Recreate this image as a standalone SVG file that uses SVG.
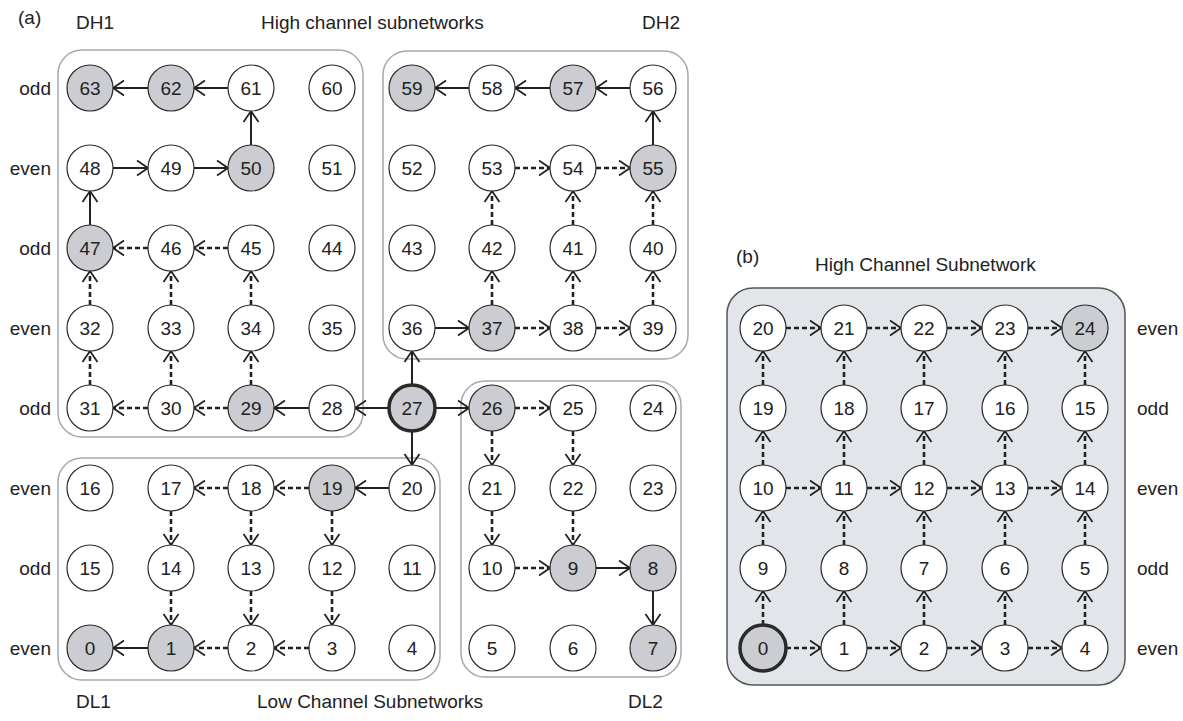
<svg xmlns="http://www.w3.org/2000/svg" width="1183" height="721" viewBox="0 0 1183 721">
  <style>
    text { font-family: "Liberation Sans", Arial, sans-serif; font-size: 19px; fill: #222; }
    .lbl { text-anchor: middle; }
    .rowl { text-anchor: end; }
    .node circle { fill: #fff; stroke: #2a2a2a; stroke-width: 1.2; }
    .node.hi circle { fill: #cbcdd3; }
    .node.src circle { stroke-width: 3.5; }
    .sub { fill: none; stroke: #a3a9b1; stroke-width: 1.5; }
    .subb { fill: #e2e5ea; stroke: #555; stroke-width: 1.5; }
    .s { stroke: #222; stroke-width: 2; fill: none; marker-end: url(#ah); }
    .d { stroke: #222; stroke-width: 2.6; stroke-dasharray: 5 3; fill: none; marker-end: url(#ah); }
  </style>
  <defs>
    <marker id="ah" viewBox="-13 -10 15 20" markerWidth="15" markerHeight="20" refX="0" refY="0" orient="auto" markerUnits="userSpaceOnUse">
      <path d="M-11,-7.5 L0,0 L-11,7.5" fill="none" stroke="#222" stroke-width="1.8" stroke-dasharray="none"/>
    </marker>
  </defs>

  <!-- captions -->
  <g id="captions">
    <text x="18" y="24">(a)</text>
    <text x="76" y="29">DH1</text>
    <text x="261" y="29">High channel subnetworks</text>
    <text x="642" y="29">DH2</text>
    <text x="76" y="708">DL1</text>
    <text x="257" y="708">Low Channel Subnetworks</text>
    <text x="628" y="708">DL2</text>
    <text x="736" y="263">(b)</text>
    <text x="815" y="271">High Channel Subnetwork</text>
  </g>

  <!-- row parity labels -->
  <g id="row-labels">
    <text class="rowl" x="51" y="95">odd</text>
    <text class="rowl" x="51" y="175">even</text>
    <text class="rowl" x="51" y="255">odd</text>
    <text class="rowl" x="51" y="335">even</text>
    <text class="rowl" x="51" y="415">odd</text>
    <text class="rowl" x="51" y="495">even</text>
    <text class="rowl" x="51" y="575">odd</text>
    <text class="rowl" x="51" y="655">even</text>
    <text x="1137" y="335">even</text>
    <text x="1137" y="415">odd</text>
    <text x="1137" y="495">even</text>
    <text x="1137" y="575">odd</text>
    <text x="1137" y="655">even</text>
  </g>

  <!-- subnetwork frames -->
  <g id="subnetworks">
    <rect id="DH1" class="sub" x="58" y="50" width="305" height="387" rx="24"/>
    <rect id="DH2" class="sub" x="383" y="51" width="305" height="308" rx="24"/>
    <rect id="DL1" class="sub" x="58" y="458" width="382" height="222" rx="24"/>
    <rect id="DL2" class="sub" x="461" y="381" width="220" height="296" rx="24"/>
    <rect id="HCS" class="subb" x="727" y="288" width="398" height="397" rx="26"/>
  </g>

  <!-- connectors -->
  <g id="connectors">
    <!-- (a) solid path -->
    <line class="s" x1="228" y1="88" x2="194" y2="88"/>
    <line class="s" x1="148" y1="88" x2="113" y2="88"/>
    <line class="s" x1="251" y1="145" x2="251" y2="111"/>
    <line class="s" x1="113" y1="168" x2="148" y2="168"/>
    <line class="s" x1="194" y1="168" x2="228" y2="168"/>
    <line class="s" x1="90" y1="225" x2="90" y2="191"/>
    <line class="s" x1="309" y1="408" x2="274" y2="408"/>
    <line class="s" x1="389" y1="408" x2="355" y2="408"/>
    <line class="s" x1="412" y1="385" x2="412" y2="351"/>
    <line class="s" x1="435" y1="408" x2="469" y2="408"/>
    <line class="s" x1="412" y1="431" x2="412" y2="465"/>
    <line class="s" x1="630" y1="88" x2="596" y2="88"/>
    <line class="s" x1="550" y1="88" x2="515" y2="88"/>
    <line class="s" x1="469" y1="88" x2="435" y2="88"/>
    <line class="s" x1="653" y1="145" x2="653" y2="111"/>
    <line class="s" x1="435" y1="328" x2="469" y2="328"/>
    <line class="s" x1="389" y1="488" x2="355" y2="488"/>
    <line class="s" x1="148" y1="648" x2="113" y2="648"/>
    <line class="s" x1="596" y1="568" x2="630" y2="568"/>
    <line class="s" x1="653" y1="591" x2="653" y2="625"/>

    <!-- (a) dashed paths -->
    <line class="d" x1="228" y1="248" x2="194" y2="248"/>
    <line class="d" x1="148" y1="248" x2="113" y2="248"/>
    <line class="d" x1="90" y1="385" x2="90" y2="351"/>
    <line class="d" x1="171" y1="385" x2="171" y2="351"/>
    <line class="d" x1="251" y1="385" x2="251" y2="351"/>
    <line class="d" x1="90" y1="305" x2="90" y2="271"/>
    <line class="d" x1="171" y1="305" x2="171" y2="271"/>
    <line class="d" x1="251" y1="305" x2="251" y2="271"/>
    <line class="d" x1="228" y1="408" x2="194" y2="408"/>
    <line class="d" x1="148" y1="408" x2="113" y2="408"/>
    <line class="d" x1="515" y1="328" x2="550" y2="328"/>
    <line class="d" x1="596" y1="328" x2="630" y2="328"/>
    <line class="d" x1="492" y1="305" x2="492" y2="271"/>
    <line class="d" x1="573" y1="305" x2="573" y2="271"/>
    <line class="d" x1="653" y1="305" x2="653" y2="271"/>
    <line class="d" x1="492" y1="225" x2="492" y2="191"/>
    <line class="d" x1="573" y1="225" x2="573" y2="191"/>
    <line class="d" x1="653" y1="225" x2="653" y2="191"/>
    <line class="d" x1="515" y1="168" x2="550" y2="168"/>
    <line class="d" x1="596" y1="168" x2="630" y2="168"/>
    <line class="d" x1="515" y1="408" x2="550" y2="408"/>
    <line class="d" x1="492" y1="431" x2="492" y2="465"/>
    <line class="d" x1="573" y1="431" x2="573" y2="465"/>
    <line class="d" x1="492" y1="511" x2="492" y2="545"/>
    <line class="d" x1="573" y1="511" x2="573" y2="545"/>
    <line class="d" x1="515" y1="568" x2="550" y2="568"/>
    <line class="d" x1="309" y1="488" x2="274" y2="488"/>
    <line class="d" x1="228" y1="488" x2="194" y2="488"/>
    <line class="d" x1="171" y1="511" x2="171" y2="545"/>
    <line class="d" x1="251" y1="511" x2="251" y2="545"/>
    <line class="d" x1="332" y1="511" x2="332" y2="545"/>
    <line class="d" x1="171" y1="591" x2="171" y2="625"/>
    <line class="d" x1="251" y1="591" x2="251" y2="625"/>
    <line class="d" x1="332" y1="591" x2="332" y2="625"/>
    <line class="d" x1="309" y1="648" x2="274" y2="648"/>
    <line class="d" x1="228" y1="648" x2="194" y2="648"/>

    <!-- (b) rows -->
    <line class="d" x1="786" y1="328" x2="821" y2="328"/>
    <line class="d" x1="867" y1="328" x2="901" y2="328"/>
    <line class="d" x1="947" y1="328" x2="982" y2="328"/>
    <line class="d" x1="1028" y1="328" x2="1062" y2="328"/>
    <line class="d" x1="786" y1="488" x2="821" y2="488"/>
    <line class="d" x1="867" y1="488" x2="901" y2="488"/>
    <line class="d" x1="947" y1="488" x2="982" y2="488"/>
    <line class="d" x1="1028" y1="488" x2="1062" y2="488"/>
    <line class="d" x1="786" y1="648" x2="821" y2="648"/>
    <line class="d" x1="867" y1="648" x2="901" y2="648"/>
    <line class="d" x1="947" y1="648" x2="982" y2="648"/>
    <line class="d" x1="1028" y1="648" x2="1062" y2="648"/>
    <!-- (b) columns -->
    <line class="d" x1="763" y1="625" x2="763" y2="591"/>
    <line class="d" x1="763" y1="545" x2="763" y2="511"/>
    <line class="d" x1="763" y1="465" x2="763" y2="431"/>
    <line class="d" x1="763" y1="385" x2="763" y2="351"/>
    <line class="d" x1="844" y1="625" x2="844" y2="591"/>
    <line class="d" x1="844" y1="545" x2="844" y2="511"/>
    <line class="d" x1="844" y1="465" x2="844" y2="431"/>
    <line class="d" x1="844" y1="385" x2="844" y2="351"/>
    <line class="d" x1="924" y1="625" x2="924" y2="591"/>
    <line class="d" x1="924" y1="545" x2="924" y2="511"/>
    <line class="d" x1="924" y1="465" x2="924" y2="431"/>
    <line class="d" x1="924" y1="385" x2="924" y2="351"/>
    <line class="d" x1="1005" y1="625" x2="1005" y2="591"/>
    <line class="d" x1="1005" y1="545" x2="1005" y2="511"/>
    <line class="d" x1="1005" y1="465" x2="1005" y2="431"/>
    <line class="d" x1="1005" y1="385" x2="1005" y2="351"/>
    <line class="d" x1="1085" y1="625" x2="1085" y2="591"/>
    <line class="d" x1="1085" y1="545" x2="1085" y2="511"/>
    <line class="d" x1="1085" y1="465" x2="1085" y2="431"/>
    <line class="d" x1="1085" y1="385" x2="1085" y2="351"/>
  </g>

  <!-- (a) nodes -->
  <g id="a63" class="node hi"><circle cx="90" cy="88" r="23"/><text class="lbl" x="90" y="95">63</text></g>
  <g id="a62" class="node hi"><circle cx="171" cy="88" r="23"/><text class="lbl" x="171" y="95">62</text></g>
  <g id="a61" class="node"><circle cx="251" cy="88" r="23"/><text class="lbl" x="251" y="95">61</text></g>
  <g id="a60" class="node"><circle cx="332" cy="88" r="23"/><text class="lbl" x="332" y="95">60</text></g>
  <g id="a59" class="node hi"><circle cx="412" cy="88" r="23"/><text class="lbl" x="412" y="95">59</text></g>
  <g id="a58" class="node"><circle cx="492" cy="88" r="23"/><text class="lbl" x="492" y="95">58</text></g>
  <g id="a57" class="node hi"><circle cx="573" cy="88" r="23"/><text class="lbl" x="573" y="95">57</text></g>
  <g id="a56" class="node"><circle cx="653" cy="88" r="23"/><text class="lbl" x="653" y="95">56</text></g>

  <g id="a48" class="node"><circle cx="90" cy="168" r="23"/><text class="lbl" x="90" y="175">48</text></g>
  <g id="a49" class="node"><circle cx="171" cy="168" r="23"/><text class="lbl" x="171" y="175">49</text></g>
  <g id="a50" class="node hi"><circle cx="251" cy="168" r="23"/><text class="lbl" x="251" y="175">50</text></g>
  <g id="a51" class="node"><circle cx="332" cy="168" r="23"/><text class="lbl" x="332" y="175">51</text></g>
  <g id="a52" class="node"><circle cx="412" cy="168" r="23"/><text class="lbl" x="412" y="175">52</text></g>
  <g id="a53" class="node"><circle cx="492" cy="168" r="23"/><text class="lbl" x="492" y="175">53</text></g>
  <g id="a54" class="node"><circle cx="573" cy="168" r="23"/><text class="lbl" x="573" y="175">54</text></g>
  <g id="a55" class="node hi"><circle cx="653" cy="168" r="23"/><text class="lbl" x="653" y="175">55</text></g>

  <g id="a47" class="node hi"><circle cx="90" cy="248" r="23"/><text class="lbl" x="90" y="255">47</text></g>
  <g id="a46" class="node"><circle cx="171" cy="248" r="23"/><text class="lbl" x="171" y="255">46</text></g>
  <g id="a45" class="node"><circle cx="251" cy="248" r="23"/><text class="lbl" x="251" y="255">45</text></g>
  <g id="a44" class="node"><circle cx="332" cy="248" r="23"/><text class="lbl" x="332" y="255">44</text></g>
  <g id="a43" class="node"><circle cx="412" cy="248" r="23"/><text class="lbl" x="412" y="255">43</text></g>
  <g id="a42" class="node"><circle cx="492" cy="248" r="23"/><text class="lbl" x="492" y="255">42</text></g>
  <g id="a41" class="node"><circle cx="573" cy="248" r="23"/><text class="lbl" x="573" y="255">41</text></g>
  <g id="a40" class="node"><circle cx="653" cy="248" r="23"/><text class="lbl" x="653" y="255">40</text></g>

  <g id="a32" class="node"><circle cx="90" cy="328" r="23"/><text class="lbl" x="90" y="335">32</text></g>
  <g id="a33" class="node"><circle cx="171" cy="328" r="23"/><text class="lbl" x="171" y="335">33</text></g>
  <g id="a34" class="node"><circle cx="251" cy="328" r="23"/><text class="lbl" x="251" y="335">34</text></g>
  <g id="a35" class="node"><circle cx="332" cy="328" r="23"/><text class="lbl" x="332" y="335">35</text></g>
  <g id="a36" class="node"><circle cx="412" cy="328" r="23"/><text class="lbl" x="412" y="335">36</text></g>
  <g id="a37" class="node hi"><circle cx="492" cy="328" r="23"/><text class="lbl" x="492" y="335">37</text></g>
  <g id="a38" class="node"><circle cx="573" cy="328" r="23"/><text class="lbl" x="573" y="335">38</text></g>
  <g id="a39" class="node"><circle cx="653" cy="328" r="23"/><text class="lbl" x="653" y="335">39</text></g>

  <g id="a31" class="node"><circle cx="90" cy="408" r="23"/><text class="lbl" x="90" y="415">31</text></g>
  <g id="a30" class="node"><circle cx="171" cy="408" r="23"/><text class="lbl" x="171" y="415">30</text></g>
  <g id="a29" class="node hi"><circle cx="251" cy="408" r="23"/><text class="lbl" x="251" y="415">29</text></g>
  <g id="a28" class="node"><circle cx="332" cy="408" r="23"/><text class="lbl" x="332" y="415">28</text></g>
  <g id="a27" class="node hi src"><circle cx="412" cy="408" r="23"/><text class="lbl" x="412" y="415">27</text></g>
  <g id="a26" class="node hi"><circle cx="492" cy="408" r="23"/><text class="lbl" x="492" y="415">26</text></g>
  <g id="a25" class="node"><circle cx="573" cy="408" r="23"/><text class="lbl" x="573" y="415">25</text></g>
  <g id="a24" class="node"><circle cx="653" cy="408" r="23"/><text class="lbl" x="653" y="415">24</text></g>

  <g id="a16" class="node"><circle cx="90" cy="488" r="23"/><text class="lbl" x="90" y="495">16</text></g>
  <g id="a17" class="node"><circle cx="171" cy="488" r="23"/><text class="lbl" x="171" y="495">17</text></g>
  <g id="a18" class="node"><circle cx="251" cy="488" r="23"/><text class="lbl" x="251" y="495">18</text></g>
  <g id="a19" class="node hi"><circle cx="332" cy="488" r="23"/><text class="lbl" x="332" y="495">19</text></g>
  <g id="a20" class="node"><circle cx="412" cy="488" r="23"/><text class="lbl" x="412" y="495">20</text></g>
  <g id="a21" class="node"><circle cx="492" cy="488" r="23"/><text class="lbl" x="492" y="495">21</text></g>
  <g id="a22" class="node"><circle cx="573" cy="488" r="23"/><text class="lbl" x="573" y="495">22</text></g>
  <g id="a23" class="node"><circle cx="653" cy="488" r="23"/><text class="lbl" x="653" y="495">23</text></g>

  <g id="a15" class="node"><circle cx="90" cy="568" r="23"/><text class="lbl" x="90" y="575">15</text></g>
  <g id="a14" class="node"><circle cx="171" cy="568" r="23"/><text class="lbl" x="171" y="575">14</text></g>
  <g id="a13" class="node"><circle cx="251" cy="568" r="23"/><text class="lbl" x="251" y="575">13</text></g>
  <g id="a12" class="node"><circle cx="332" cy="568" r="23"/><text class="lbl" x="332" y="575">12</text></g>
  <g id="a11" class="node"><circle cx="412" cy="568" r="23"/><text class="lbl" x="412" y="575">11</text></g>
  <g id="a10" class="node"><circle cx="492" cy="568" r="23"/><text class="lbl" x="492" y="575">10</text></g>
  <g id="a9" class="node hi"><circle cx="573" cy="568" r="23"/><text class="lbl" x="573" y="575">9</text></g>
  <g id="a8" class="node hi"><circle cx="653" cy="568" r="23"/><text class="lbl" x="653" y="575">8</text></g>

  <g id="a0" class="node hi"><circle cx="90" cy="648" r="23"/><text class="lbl" x="90" y="655">0</text></g>
  <g id="a1" class="node hi"><circle cx="171" cy="648" r="23"/><text class="lbl" x="171" y="655">1</text></g>
  <g id="a2" class="node"><circle cx="251" cy="648" r="23"/><text class="lbl" x="251" y="655">2</text></g>
  <g id="a3" class="node"><circle cx="332" cy="648" r="23"/><text class="lbl" x="332" y="655">3</text></g>
  <g id="a4" class="node"><circle cx="412" cy="648" r="23"/><text class="lbl" x="412" y="655">4</text></g>
  <g id="a5" class="node"><circle cx="492" cy="648" r="23"/><text class="lbl" x="492" y="655">5</text></g>
  <g id="a6" class="node"><circle cx="573" cy="648" r="23"/><text class="lbl" x="573" y="655">6</text></g>
  <g id="a7" class="node hi"><circle cx="653" cy="648" r="23"/><text class="lbl" x="653" y="655">7</text></g>

  <!-- (b) nodes -->
  <g id="b20" class="node"><circle cx="763" cy="328" r="23"/><text class="lbl" x="763" y="335">20</text></g>
  <g id="b21" class="node"><circle cx="844" cy="328" r="23"/><text class="lbl" x="844" y="335">21</text></g>
  <g id="b22" class="node"><circle cx="924" cy="328" r="23"/><text class="lbl" x="924" y="335">22</text></g>
  <g id="b23" class="node"><circle cx="1005" cy="328" r="23"/><text class="lbl" x="1005" y="335">23</text></g>
  <g id="b24" class="node hi"><circle cx="1085" cy="328" r="23"/><text class="lbl" x="1085" y="335">24</text></g>

  <g id="b19" class="node"><circle cx="763" cy="408" r="23"/><text class="lbl" x="763" y="415">19</text></g>
  <g id="b18" class="node"><circle cx="844" cy="408" r="23"/><text class="lbl" x="844" y="415">18</text></g>
  <g id="b17" class="node"><circle cx="924" cy="408" r="23"/><text class="lbl" x="924" y="415">17</text></g>
  <g id="b16" class="node"><circle cx="1005" cy="408" r="23"/><text class="lbl" x="1005" y="415">16</text></g>
  <g id="b15" class="node"><circle cx="1085" cy="408" r="23"/><text class="lbl" x="1085" y="415">15</text></g>

  <g id="b10" class="node"><circle cx="763" cy="488" r="23"/><text class="lbl" x="763" y="495">10</text></g>
  <g id="b11" class="node"><circle cx="844" cy="488" r="23"/><text class="lbl" x="844" y="495">11</text></g>
  <g id="b12" class="node"><circle cx="924" cy="488" r="23"/><text class="lbl" x="924" y="495">12</text></g>
  <g id="b13" class="node"><circle cx="1005" cy="488" r="23"/><text class="lbl" x="1005" y="495">13</text></g>
  <g id="b14" class="node"><circle cx="1085" cy="488" r="23"/><text class="lbl" x="1085" y="495">14</text></g>

  <g id="b9" class="node"><circle cx="763" cy="568" r="23"/><text class="lbl" x="763" y="575">9</text></g>
  <g id="b8" class="node"><circle cx="844" cy="568" r="23"/><text class="lbl" x="844" y="575">8</text></g>
  <g id="b7" class="node"><circle cx="924" cy="568" r="23"/><text class="lbl" x="924" y="575">7</text></g>
  <g id="b6" class="node"><circle cx="1005" cy="568" r="23"/><text class="lbl" x="1005" y="575">6</text></g>
  <g id="b5" class="node"><circle cx="1085" cy="568" r="23"/><text class="lbl" x="1085" y="575">5</text></g>

  <g id="b0" class="node hi src"><circle cx="763" cy="648" r="23"/><text class="lbl" x="763" y="655">0</text></g>
  <g id="b1" class="node"><circle cx="844" cy="648" r="23"/><text class="lbl" x="844" y="655">1</text></g>
  <g id="b2" class="node"><circle cx="924" cy="648" r="23"/><text class="lbl" x="924" y="655">2</text></g>
  <g id="b3" class="node"><circle cx="1005" cy="648" r="23"/><text class="lbl" x="1005" y="655">3</text></g>
  <g id="b4" class="node"><circle cx="1085" cy="648" r="23"/><text class="lbl" x="1085" y="655">4</text></g>
</svg>
